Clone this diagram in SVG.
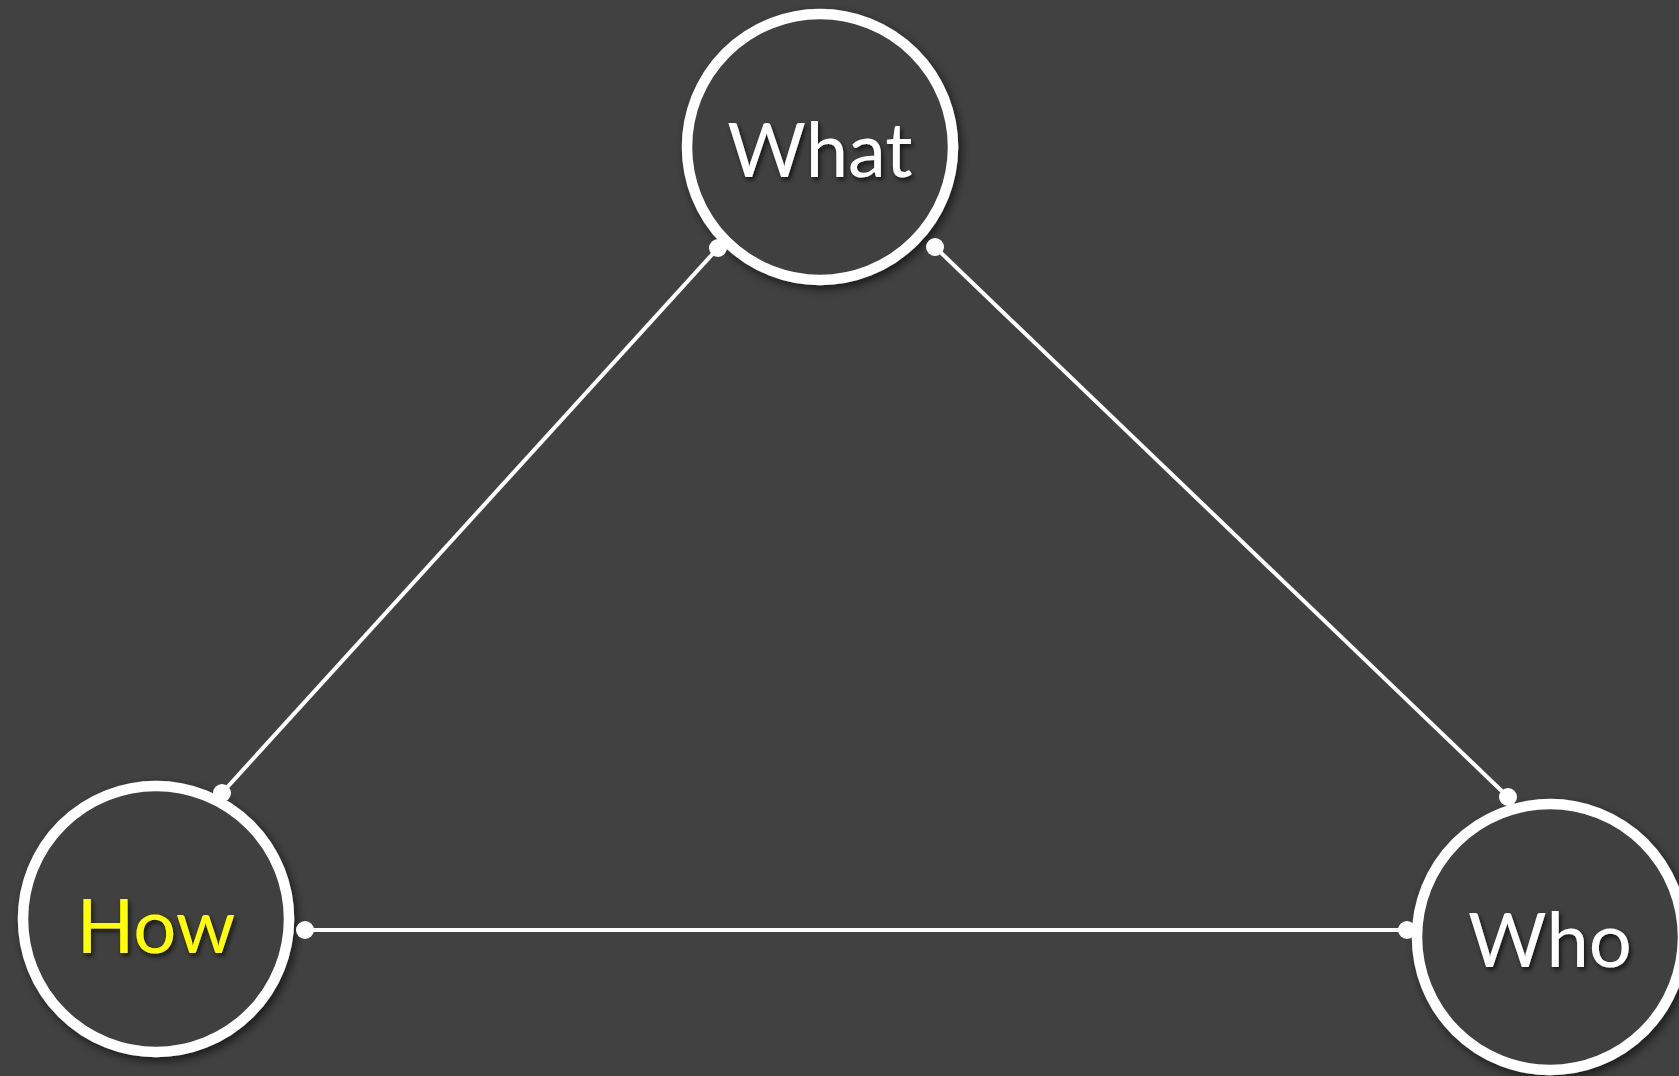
<svg xmlns="http://www.w3.org/2000/svg" width="1679" height="1076" viewBox="0 0 1679 1076">
<style>
.ring{fill:#414141;stroke:#ffffff;stroke-width:10.5;filter:url(#sh)}
.lbl{font-family:Lato,"Open Sans","Liberation Sans",sans-serif;font-size:76px;text-anchor:middle;fill:#ffffff;filter:url(#tsh)}
.how{fill:#ffff00}
.edge{stroke:#ffffff;stroke-width:4;fill:none}
.dot{fill:#ffffff}
</style>
<defs>
<filter id="sh" x="-20%" y="-20%" width="140%" height="140%">
<feDropShadow dx="3" dy="4" stdDeviation="5" flood-color="#000" flood-opacity="0.6"/>
</filter>
<filter id="tsh" x="-20%" y="-20%" width="140%" height="140%">
<feDropShadow dx="2" dy="3" stdDeviation="2.5" flood-color="#000" flood-opacity="0.7"/>
</filter>
</defs>
<rect width="1679" height="1076" fill="#414141"/>
<g id="connectors">
<line class="edge" x1="718" y1="248" x2="222" y2="793"/>
<line class="edge" x1="935" y1="247" x2="1508" y2="797"/>
<line class="edge" x1="305" y1="930" x2="1407" y2="930"/>
</g>
<g id="node-what">
<circle class="ring" cx="820" cy="147" r="133"/>
<text class="lbl" x="820" y="177">What</text>
</g>
<g id="node-how">
<circle class="ring" cx="156" cy="919" r="133"/>
<text class="lbl how" x="156" y="953">How</text>
</g>
<g id="node-who">
<circle class="ring" cx="1550" cy="937" r="133"/>
<text class="lbl" x="1550" y="967">Who</text>
</g>
<g id="connector-dots">
<circle class="dot" cx="718" cy="248" r="9"/>
<circle class="dot" cx="222" cy="793" r="9"/>
<circle class="dot" cx="935" cy="247" r="9"/>
<circle class="dot" cx="1508" cy="797" r="9"/>
<circle class="dot" cx="305" cy="930" r="9"/>
<circle class="dot" cx="1407" cy="930" r="9"/>
</g>
</svg>
